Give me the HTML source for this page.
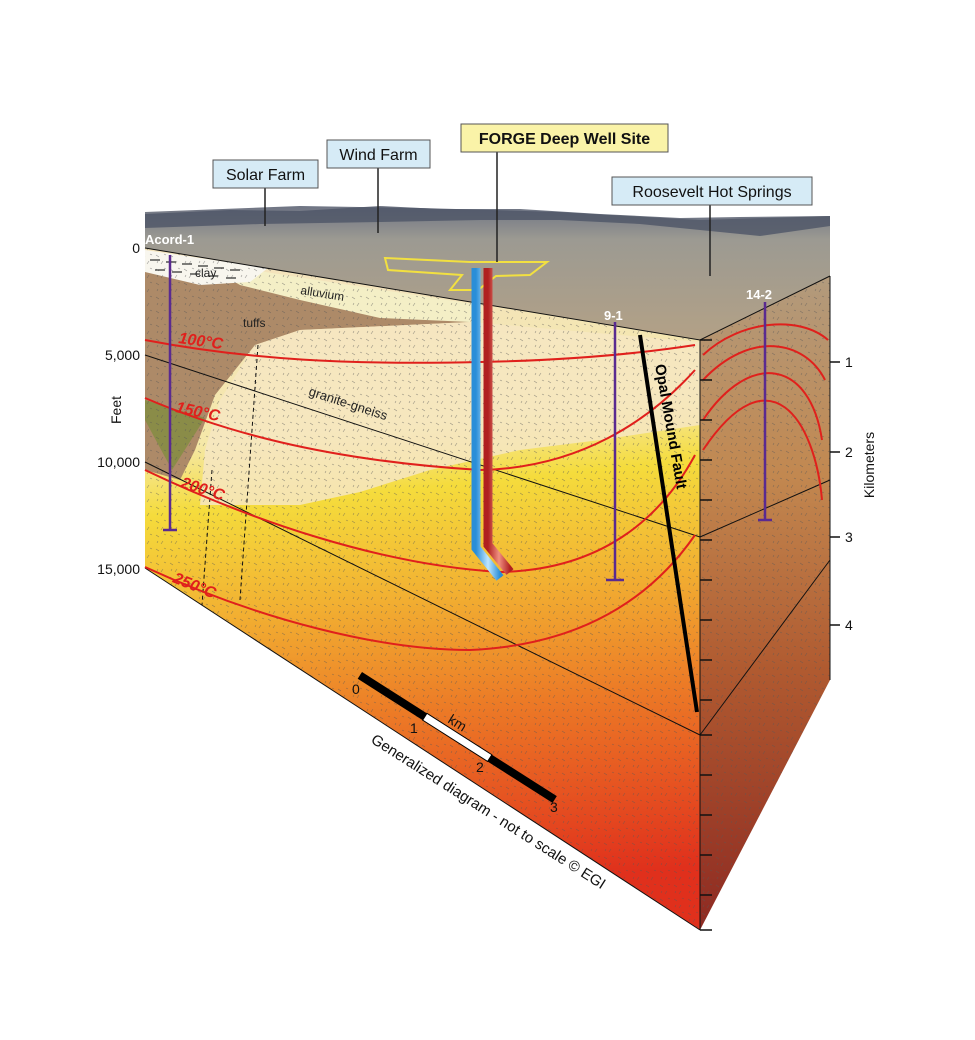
<!DOCTYPE html>
<html><head><meta charset="utf-8"><style>
html,body{margin:0;padding:0;background:#fff;}
svg{display:block;font-family:"Liberation Sans",sans-serif;}
</style></head><body>
<svg width="975" height="1040" viewBox="0 0 975 1040" xmlns="http://www.w3.org/2000/svg">
<defs>
<linearGradient id="front" gradientUnits="userSpaceOnUse" x1="0" y1="330" x2="60" y2="930">
<stop offset="0" stop-color="#f4e4bc"/>
<stop offset="0.22" stop-color="#f5e8a8"/>
<stop offset="0.33" stop-color="#f5dc3c"/>
<stop offset="0.5" stop-color="#f2b232"/>
<stop offset="0.7" stop-color="#ec7a26"/>
<stop offset="1" stop-color="#e0301c"/>
</linearGradient>
<linearGradient id="right" gradientUnits="userSpaceOnUse" x1="0" y1="280" x2="0" y2="930">
<stop offset="0" stop-color="#b29a7c"/>
<stop offset="0.3" stop-color="#c28850"/>
<stop offset="0.6" stop-color="#b05a30"/>
<stop offset="1" stop-color="#8e2a22"/>
</linearGradient>
<linearGradient id="sky" x1="0" y1="0" x2="0" y2="1">
<stop offset="0" stop-color="#6e7484"/>
<stop offset="0.25" stop-color="#9c9a92"/>
<stop offset="1" stop-color="#b3a186"/>
</linearGradient>
<pattern id="dash" width="14" height="14" patternUnits="userSpaceOnUse">
<path d="M2 3l3 2M9 9l-2 3M10 2l2 1M3 11l1-2" stroke="#555" stroke-width="0.6" opacity="0.6"/>
</pattern>
<linearGradient id="pb" x1="0" x2="1"><stop offset="0" stop-color="#2a8ed8"/><stop offset="0.5" stop-color="#bfe6ff"/><stop offset="1" stop-color="#2a8ed8"/></linearGradient>
<linearGradient id="pr" x1="0" x2="1"><stop offset="0" stop-color="#b02020"/><stop offset="0.5" stop-color="#f09080"/><stop offset="1" stop-color="#b02020"/></linearGradient>
</defs>

<polygon points="145,212 300,206 420,208 560,212 700,220 830,216 830,276 700,340 145,248" fill="url(#sky)"/>
<path d="M145,214 L230,210 L300,211 L380,206 L440,209 L520,209 L600,214 L680,218 L740,217 L830,216 L830,226 L760,236 L700,230 L640,224 L560,220 L480,220 L380,222 L260,224 L145,228Z" fill="#4e5566" opacity="0.8"/>

<polygon points="145,248 700,340 700,930 145,568" fill="url(#front)"/>
<path d="M145,260 L480,312 L470,322 L300,330 L255,345 L215,395 L195,450 L180,480 L145,470Z" fill="#ad8a68"/>
<path d="M200,262 L480,305 L470,322 L380,318 L300,300 L240,285Z" fill="#f4efc6"/>
<path d="M145,250 L268,268 L250,282 L200,285 L145,272Z" fill="#f8f6ee"/>
<g stroke="#333" stroke-width="1.2"><path d="M150,260h10M166,262h10M182,264h10M198,266h10M214,268h10M230,270h10M155,270h10M172,272h10M190,274h10M208,276h10M226,278h10"/></g>
<polygon points="145,400 205,418 172,470 145,420" fill="#8a8c48"/>
<path d="M255,345 L300,330 L470,322 L700,342 L700,425 L600,440 L520,450 L430,470 L360,492 L300,505 L230,505 L200,505 L205,450 L220,400Z" fill="#f6e6c2" opacity="0.85"/>
<polygon points="145,248 700,340 700,930 145,568" fill="url(#dash)"/>

<polygon points="700,340 830,276 830,680 700,930" fill="url(#right)"/>
<polygon points="700,340 830,276 830,680 700,930" fill="url(#dash)"/>

<g stroke="#111" stroke-width="1" fill="none">
<path d="M145,355 L700,537"/>
<path d="M145,462 L700,735"/>
<path d="M700,537 L830,480"/>
<path d="M700,735 L830,560"/>
<path d="M145,248 L700,340 L830,276"/>
<path d="M700,340 L700,930"/>
<path d="M145,568 L700,930"/>
<path d="M830,276 L830,680"/>
</g>
<g stroke="#111" stroke-width="1" stroke-dasharray="4,3" fill="none">
<path d="M258,345 L240,600"/><path d="M212,470 L202,605"/>
</g>

<g stroke="#e0201c" stroke-width="2" fill="none">
<path d="M145,340 C250,360 350,365 480,362 C580,360 650,352 695,345"/>
<path d="M145,398 C220,430 320,460 480,470 C580,468 650,420 695,370"/>
<path d="M145,470 C250,520 380,565 500,572 C600,570 660,520 695,455"/>
<path d="M145,567 C260,620 380,650 470,650 C580,645 650,600 695,535"/>
<path d="M703,355 C740,320 800,315 828,340"/>
<path d="M703,380 C750,330 805,340 825,380"/>
<path d="M703,420 C750,350 810,360 822,440"/>
<path d="M703,450 C770,350 815,420 822,500"/>
</g>

<path d="M640,335 L697,712" stroke="#000" stroke-width="4"/>
<text transform="translate(655,365) rotate(80)" font-size="15" font-weight="bold" fill="#000">Opal Mound Fault</text>

<g stroke="#5a2a90" stroke-width="2.5">
<path d="M170,255 V530 M163,530 h14"/>
<path d="M615,322 V580 M606,580 h18"/>
<path d="M765,302 V520 M758,520 h14"/>
</g>
<text x="145" y="244" font-size="13" font-weight="bold" fill="#fff">Acord-1</text>
<text x="604" y="320" font-size="13" font-weight="bold" fill="#fff">9-1</text>
<text x="746" y="299" font-size="13" font-weight="bold" fill="#fff">14-2</text>

<polygon points="385,258 470,262 547,262 530,275 496,276 478,290 450,290 462,275 388,270" fill="none" stroke="#f2e040" stroke-width="2"/>
<path d="M476,268 V548 L500,578" stroke="url(#pb)" stroke-width="9" fill="none"/>
<path d="M488,268 V545 L510,572" stroke="url(#pr)" stroke-width="9" fill="none"/>

<text x="195" y="277" font-size="12" fill="#222">clay</text>
<text x="300" y="294" font-size="12" fill="#222" transform="rotate(9 300 294)">alluvium</text>
<text x="243" y="327" font-size="12" fill="#222">tuffs</text>
<text x="308" y="395" font-size="13" fill="#222" transform="rotate(18 308 395)">granite-gneiss</text>

<g font-size="16" font-weight="bold" font-style="italic" fill="#e0201c">
<text x="178" y="343" transform="rotate(8 178 343)">100°C</text>
<text x="175" y="412" transform="rotate(12 175 412)">150°C</text>
<text x="180" y="487" transform="rotate(18 180 487)">200°C</text>
<text x="172" y="582" transform="rotate(22 172 582)">250°C</text>
</g>

<g font-size="14" fill="#111" text-anchor="end">
<text x="140" y="253">0</text><text x="140" y="360">5,000</text><text x="140" y="467">10,000</text><text x="140" y="574">15,000</text>
</g>
<text transform="translate(121,410) rotate(-90)" font-size="14" text-anchor="middle" fill="#111">Feet</text>
<g stroke="#111" stroke-width="1.5">
<path d="M830,362 h10 M830,452 h10 M830,537 h10 M830,625 h10"/>
<path d="M700,340h12M700,380h12M700,420h12M700,460h12M700,500h12M700,540h12M700,580h12M700,620h12M700,660h12M700,700h12M700,735h12M700,775h12M700,815h12M700,855h12M700,895h12M700,930h12"/>
</g>
<g font-size="14" fill="#111">
<text x="845" y="367">1</text><text x="845" y="457">2</text><text x="845" y="542">3</text><text x="845" y="630">4</text>
</g>
<text transform="translate(874,465) rotate(-90)" font-size="14" text-anchor="middle" fill="#111">Kilometers</text>

<g transform="translate(362,672) rotate(32.5)">
<rect x="0" y="0" width="77" height="8" fill="#000"/>
<rect x="77" y="0" width="77" height="8" fill="#fff" stroke="#000"/>
<rect x="154" y="0" width="77" height="8" fill="#000"/>
</g>
<g font-size="14" fill="#111">
<text x="352" y="694">0</text><text x="410" y="733">1</text><text x="476" y="772">2</text><text x="550" y="812">3</text>
<text x="447" y="722" transform="rotate(32 447 722)">km</text>
</g>
<text x="370" y="742" font-size="15" fill="#111" transform="rotate(32.5 370 742)">Generalized diagram - not to scale © EGI</text>

<g stroke="#222" stroke-width="1.5">
<path d="M265,188 V226 M378,168 V233 M497,152 V262 M710,205 V276"/>
</g>
<g font-size="16" fill="#111">
<rect x="213" y="160" width="105" height="28" fill="#d6ebf6" stroke="#555"/>
<text x="265.5" y="180" text-anchor="middle">Solar Farm</text>
<rect x="327" y="140" width="103" height="28" fill="#d6ebf6" stroke="#555"/>
<text x="378.5" y="160" text-anchor="middle">Wind Farm</text>
<rect x="461" y="124" width="207" height="28" fill="#faf3a8" stroke="#555"/>
<text x="564.5" y="144" text-anchor="middle" font-weight="bold">FORGE Deep Well Site</text>
<rect x="612" y="177" width="200" height="28" fill="#d6ebf6" stroke="#555"/>
<text x="712" y="197" text-anchor="middle">Roosevelt Hot Springs</text>
</g>
</svg>
</body></html>
